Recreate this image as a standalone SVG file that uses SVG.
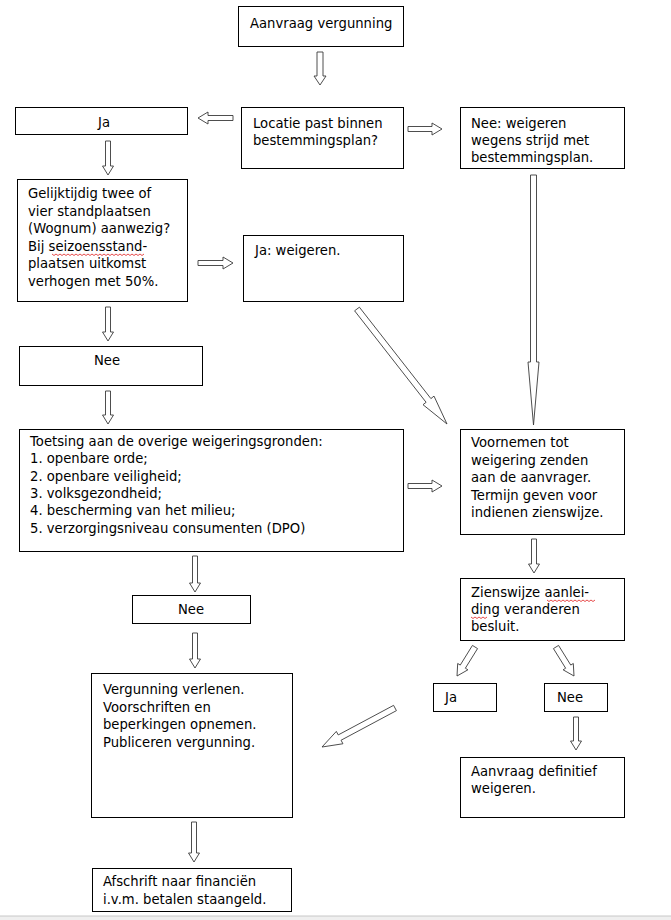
<svg xmlns="http://www.w3.org/2000/svg" width="671" height="920" viewBox="0 0 671 920">
<style>
.box{fill:#fff;stroke:#000;stroke-width:1}
.t{font-family:"DejaVu Sans",Verdana,sans-serif;font-size:13.2px;fill:#000}
.c{text-anchor:middle}
.arr{fill:#fff;stroke:#3a3a3a;stroke-width:0.9;stroke-linejoin:miter}
.sq{fill:none;stroke:#e02020;stroke-width:0.8}
</style>
<defs>
<clipPath id="clipAf"><rect x="92" y="868" width="200" height="44"/></clipPath>
</defs>
<rect x="0" y="0" width="671" height="920" fill="#fff"/>
<rect x="0" y="916" width="671" height="4" fill="#efefef"/>
<line x1="0" y1="916" x2="671" y2="916" stroke="#c8c8c8" stroke-width="1"/>

<g id="connectors">
<polygon class="arr" points="317,52 323,52 323,76 326,76 320,85 314,76 317,76"/>
<polygon class="arr" points="233,115.5 208,115.5 208,112 198,118 208,124 208,120.5 233,120.5"/>
<polygon class="arr" points="408,126.5 432,126.5 432,123 442,129 432,135 432,131.5 408,131.5"/>
<polygon class="arr" points="105.5,141 110.5,141 110.5,166 113.5,166 108,175 102.5,166 105.5,166"/>
<polygon class="arr" points="198,260.5 223,260.5 223,257 233,263 223,269 223,265.5 198,265.5"/>
<polygon class="arr" points="354.6,310.8 359.4,307.2 430.9,398.6 434.0,396.1 447,424 423.0,404.7 426.1,402.3"/>
<polygon class="arr" points="530.5,175 536.5,175 536.5,362 539,362 533.5,425 528,362 530.5,362"/>
<polygon class="arr" points="105.5,307 110.5,307 110.5,332 113.5,332 108,341 102.5,332 105.5,332"/>
<polygon class="arr" points="105.5,391 110.5,391 110.5,415 113.5,415 108,424 102.5,415 105.5,415"/>
<polygon class="arr" points="408,483.5 432,483.5 432,480 442,486 432,492 432,488.5 408,488.5"/>
<polygon class="arr" points="531.5,539 536.5,539 536.5,564 539.5,564 534,573 528.5,564 531.5,564"/>
<polygon class="arr" points="192.5,556 197.5,556 197.5,583 200.5,583 195,592 189.5,583 192.5,583"/>
<polygon class="arr" points="192.5,633 197.5,633 197.5,659 200.5,659 195,668 189.5,659 192.5,659"/>
<polygon class="arr" points="472.45,645.42 477.55,648.58 465.35,668.23 467.9,669.82 457,676 457.7,663.48 460.25,665.07"/>
<polygon class="arr" points="553.45,648.58 558.55,645.42 570.75,665.07 573.3,663.48 574,676 563.1,669.82 565.65,668.23"/>
<polygon class="arr" points="573.5,717 578.5,717 578.5,741 581.5,741 576,750 570.5,741 573.5,741"/>
<polygon class="arr" points="393.59,705.35 396.41,710.65 341.05,740.23 342.94,743.75 322,747 336.34,731.41 338.23,734.93"/>
<polygon class="arr" points="191.5,822 196.5,822 196.5,853 199.5,853 194,862 188.5,853 191.5,853"/>
</g>

<g id="aanvraag">
<rect class="box" x="238.5" y="6.5" width="165" height="40"/>
<text class="t" x="250" y="28">Aanvraag vergunning</text>
</g>

<g id="locatie">
<rect class="box" x="241.5" y="107.5" width="162" height="61"/>
<text class="t" x="253" y="128">Locatie past binnen</text>
<text class="t" x="253" y="145">bestemmingsplan?</text>
</g>

<g id="ja1">
<rect class="box" x="15.5" y="107.5" width="172" height="27"/>
<text class="t c" x="104" y="127">Ja</text>
</g>

<g id="nee-weigeren">
<rect class="box" x="460.5" y="107.5" width="164" height="61"/>
<text class="t" x="471" y="128">Nee: weigeren</text>
<text class="t" x="471" y="145">wegens strijd met</text>
<text class="t" x="471" y="162">bestemmingsplan.</text>
</g>

<g id="gelijktijdig">
<rect class="box" x="17.5" y="179.5" width="170" height="122"/>
<text class="t" x="28" y="198">Gelijktijdig twee of</text>
<text class="t" x="28" y="215.5">vier standplaatsen</text>
<text class="t" x="28" y="233">(Wognum) aanwezig?</text>
<text class="t" x="28" y="250.5">Bij seizoensstand-</text>
<text class="t" x="28" y="268">plaatsen uitkomst</text>
<text class="t" x="28" y="285.5">verhogen met 50%.</text>
<path class="sq" d="M52,254 l2,1.5 2,-1.5 2,1.5 2,-1.5 2,1.5 2,-1.5 2,1.5 2,-1.5 2,1.5 2,-1.5 2,1.5 2,-1.5 2,1.5 2,-1.5 2,1.5 2,-1.5 2,1.5 2,-1.5 2,1.5 2,-1.5 2,1.5 2,-1.5 2,1.5 2,-1.5 2,1.5 2,-1.5 2,1.5 2,-1.5 2,1.5 2,-1.5 2,1.5 2,-1.5 2,1.5 2,-1.5 2,1.5 2,-1.5 2,1.5 2,-1.5 2,1.5 2,-1.5 2,1.5 2,-1.5 2,1.5 2,-1.5 2,1.5 2,-1.5"/>
</g>

<g id="ja-weigeren">
<rect class="box" x="243.5" y="235.5" width="160" height="66"/>
<text class="t" x="255" y="255">Ja: weigeren.</text>
</g>

<g id="nee1">
<rect class="box" x="19.5" y="346.5" width="183" height="39"/>
<text class="t c" x="107" y="365">Nee</text>
</g>

<g id="toetsing">
<rect class="box" x="19.5" y="429.5" width="384" height="122"/>
<text class="t" x="30" y="446">Toetsing aan de overige weigeringsgronden:</text>
<text class="t" x="30" y="463.3">1. openbare orde;</text>
<text class="t" x="30" y="480.6">2. openbare veiligheid;</text>
<text class="t" x="30" y="497.9">3. volksgezondheid;</text>
<text class="t" x="30" y="515.2">4. bescherming van het milieu;</text>
<text class="t" x="30" y="532.5">5. verzorgingsniveau consumenten (DPO)</text>
</g>

<g id="voornemen">
<rect class="box" x="460.5" y="429.5" width="164" height="105"/>
<text class="t" x="471" y="447">Voornemen tot</text>
<text class="t" x="471" y="464.5">weigering zenden</text>
<text class="t" x="471" y="482">aan de aanvrager.</text>
<text class="t" x="471" y="499.5">Termijn geven voor</text>
<text class="t" x="471" y="517">indienen zienswijze.</text>
</g>

<g id="zienswijze">
<rect class="box" x="460.5" y="578.5" width="164" height="62"/>
<text class="t" x="471" y="597">Zienswijze aanlei-</text>
<text class="t" x="471" y="614">ding veranderen</text>
<text class="t" x="471" y="631">besluit.</text>
<path class="sq" d="M547,600 l2,1.5 2,-1.5 2,1.5 2,-1.5 2,1.5 2,-1.5 2,1.5 2,-1.5 2,1.5 2,-1.5 2,1.5 2,-1.5 2,1.5 2,-1.5 2,1.5 2,-1.5 2,1.5 2,-1.5 2,1.5 2,-1.5 2,1.5 2,-1.5 2,1.5 2,-1.5"/>
<path class="sq" d="M471,617 l2,1.5 2,-1.5 2,1.5 2,-1.5 2,1.5 2,-1.5 2,1.5 2,-1.5"/>
</g>

<g id="nee2">
<rect class="box" x="132.5" y="595.5" width="118" height="28"/>
<text class="t c" x="191" y="614">Nee</text>
</g>

<g id="vergunning">
<rect class="box" x="91.5" y="673.5" width="201" height="144"/>
<text class="t" x="103" y="694">Vergunning verlenen.</text>
<text class="t" x="103" y="711.5">Voorschriften en</text>
<text class="t" x="103" y="729">beperkingen opnemen.</text>
<text class="t" x="103" y="746.5">Publiceren vergunning.</text>
</g>

<g id="ja2">
<rect class="box" x="433.5" y="683.5" width="63" height="28"/>
<text class="t" x="445" y="702">Ja</text>
</g>

<g id="nee3">
<rect class="box" x="544.5" y="683.5" width="63" height="28"/>
<text class="t" x="557" y="702">Nee</text>
</g>

<g id="definitief">
<rect class="box" x="460.5" y="757.5" width="164" height="60"/>
<text class="t" x="471" y="776">Aanvraag definitief</text>
<text class="t" x="471" y="793">weigeren.</text>
</g>

<g id="afschrift">
<rect class="box" x="92.5" y="868.5" width="199" height="43"/>
<g clip-path="url(#clipAf)">
<text class="t" x="103" y="886">Afschrift naar financiën</text>
<text class="t" x="103" y="904">i.v.m. betalen staangeld.</text>
</g>
</g>
</svg>
